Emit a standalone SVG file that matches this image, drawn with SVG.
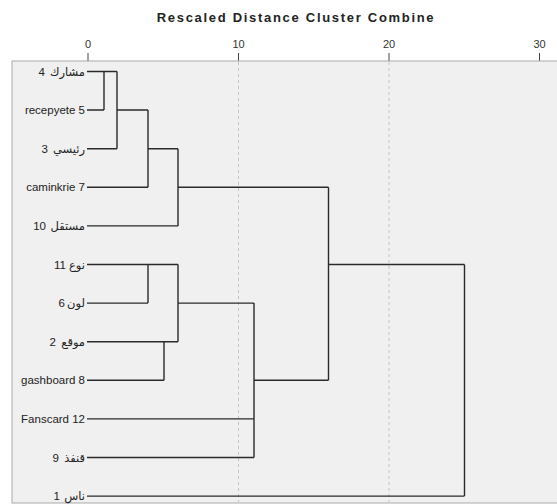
<svg xmlns="http://www.w3.org/2000/svg" width="557" height="504" viewBox="0 0 557 504">
<style>
.title{font-family:"Liberation Sans","DejaVu Sans",sans-serif;font-size:13px;font-weight:bold;fill:#222;letter-spacing:1.7px}
.tick{font-family:"Liberation Sans","DejaVu Sans",sans-serif;font-size:11px;fill:#333;text-anchor:middle}
.lbl{font-family:"Liberation Sans","DejaVu Sans",sans-serif;font-size:11.5px;fill:#222;text-anchor:end}
.ln{stroke:#2a2a2a;stroke-width:1.4;fill:none}
.grid{stroke:#c4c4c4;stroke-width:1;stroke-dasharray:3,3;fill:none}
</style>
<rect x="0" y="0" width="557" height="504" fill="#ffffff"/>
<g id="title"><text class="title" x="296" y="22" text-anchor="middle">Rescaled Distance Cluster Combine</text></g>
<g id="axis">
<text class="tick" x="88" y="48">0</text>
<text class="tick" x="238.5" y="48">10</text>
<text class="tick" x="389" y="48">20</text>
<text class="tick" x="539.5" y="48">30</text>
<path d="M88 53V61M238.5 53V61M389 53V61M539.5 53V61" stroke="#444" stroke-width="1"/>
</g>
<g id="plot">
<rect x="12" y="61" width="546" height="442" fill="#f0f0f0" stroke="#aaa" stroke-width="1"/>
<path class="grid" d="M238.5 62V502"/>
<path class="grid" d="M389 62V502" stroke="#dedede"/>
</g>
<g id="labels">
<g id="n4"><text class="lbl" x="85" y="75.5">مشارك</text><text class="lbl" x="45" y="75.5">4</text></g>
<g id="n5"><text class="lbl" x="85" y="114">recepyete 5</text></g>
<g id="n3"><text class="lbl" x="85" y="152.7">رئيسي</text><text class="lbl" x="48" y="152.7">3</text></g>
<g id="n7"><text class="lbl" x="85" y="191.3">caminkrie 7</text></g>
<g id="n10"><text class="lbl" x="85" y="230">مستقل</text><text class="lbl" x="46" y="230">10</text></g>
<g id="n11"><text class="lbl" x="85" y="268.5">نوع</text><text class="lbl" x="66" y="268.5">11</text></g>
<g id="n6"><text class="lbl" x="85" y="307">لون</text><text class="lbl" x="65" y="307">6</text></g>
<g id="n2"><text class="lbl" x="85" y="345.7">موقع</text><text class="lbl" x="56" y="345.7">2</text></g>
<g id="n8"><text class="lbl" x="85" y="384.3">gashboard 8</text></g>
<g id="n12"><text class="lbl" x="85" y="423">Fanscard 12</text></g>
<g id="n9"><text class="lbl" x="85" y="461.5">قنفذ</text><text class="lbl" x="59" y="461.5">9</text></g>
<g id="n1"><text class="lbl" x="85" y="500">ناس</text><text class="lbl" x="60" y="500">1</text></g>
</g>
<g id="connectors">
<path class="ln" d="M87 71.5H117 M87 110H104 M104 71.5V110 M87 148.7H117 M117 71.5V148.7"/>
<path class="ln" d="M117 110H148 M87 187.3H148 M148 110V187.3"/>
<path class="ln" d="M148 148.7H178 M87 225.9H178 M178 148.7V225.9"/>
<path class="ln" d="M178 187.3H328.5 M328.5 187.3V380.3"/>
<path class="ln" d="M87 264.5H178 M87 303.1H148 M148 264.5V303.1"/>
<path class="ln" d="M87 341.7H178 M87 380.3H164 M164 341.7V380.3 M178 264.5V341.7"/>
<path class="ln" d="M178 303.1H254 M87 418.9H254 M87 457.5H254 M254 303.1V457.5"/>
<path class="ln" d="M254 380.3H328.5"/>
<path class="ln" d="M328.5 264.5H464.5 M87 496.1H464.5 M464.5 264.5V496.1"/>
</g>
</svg>
